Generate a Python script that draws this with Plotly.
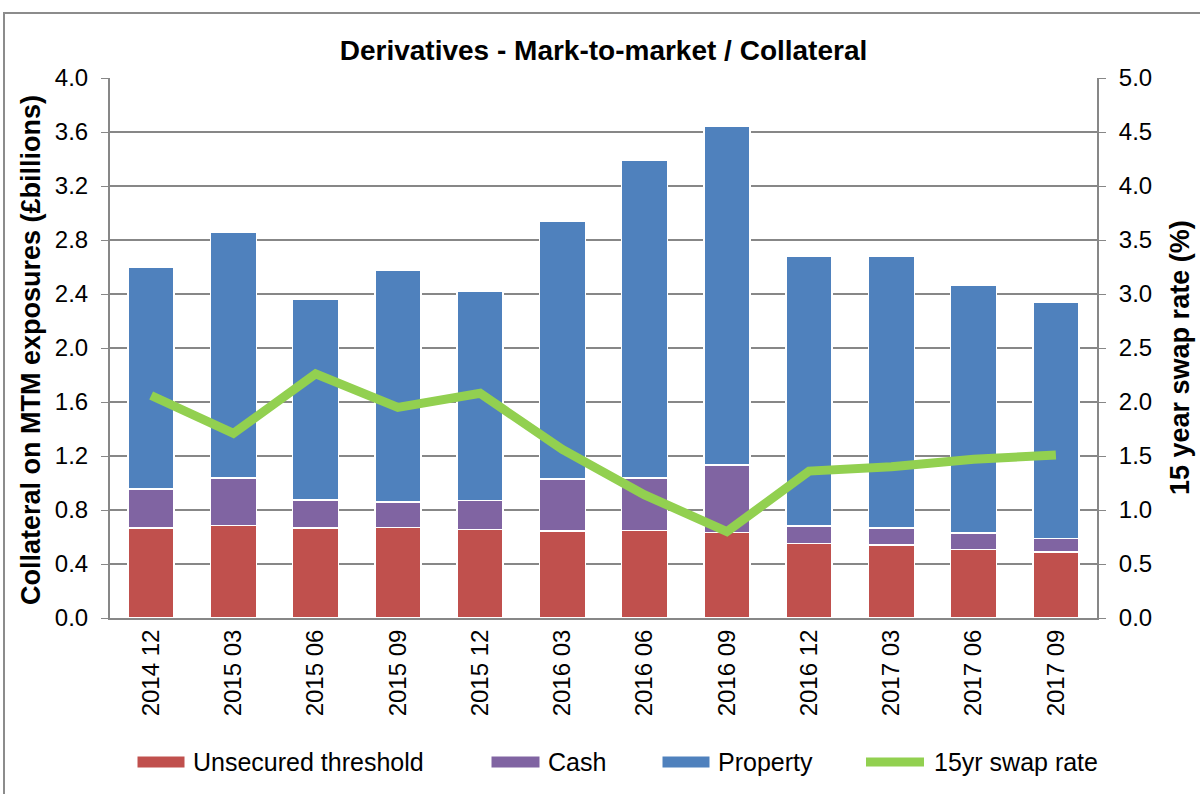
import plotly.graph_objects as go

categories = ["2014 12", "2015 03", "2015 06", "2015 09", "2015 12", "2016 03",
              "2016 06", "2016 09", "2016 12", "2017 03", "2017 06", "2017 09"]
unsecured = [0.665, 0.685, 0.667, 0.670, 0.657, 0.645, 0.647, 0.635, 0.552, 0.542, 0.509, 0.489]
cash = [0.290, 0.353, 0.207, 0.191, 0.215, 0.383, 0.391, 0.498, 0.128, 0.123, 0.121, 0.100]
property_ = [1.645, 1.822, 1.486, 1.713, 1.546, 1.909, 2.352, 2.507, 2.000, 2.015, 1.838, 1.751]
swap_rate = [2.06, 1.71, 2.26, 1.95, 2.08, 1.56, 1.14, 0.80, 1.36, 1.40, 1.47, 1.51]

series_names = ["Unsecured threshold", "Cash", "Property", "15yr swap rate"]
series_colors = ["#C0504D", "#8064A2", "#4F81BD", "#92D050"]

FONT = "Arial, Liberation Sans, sans-serif"
GRID = "#878787"

# plot area in pixels
L, R, T, B = 110, 1097, 78, 618
W, H = R - L, B - T


def px(x):
    return (x - L) / W


def py(y):
    return (B - y) / H


fig = go.Figure()
for name, vals, col in zip(series_names[:3], [unsecured, cash, property_], series_colors[:3]):
    fig.add_trace(go.Bar(x=categories, y=vals, name=name,
                         marker=dict(color=col, line=dict(color="white", width=1.5))))
fig.add_trace(go.Scatter(x=categories, y=swap_rate, name=series_names[3], yaxis="y2",
                         mode="lines", line=dict(color=series_colors[3], width=9)))

shapes = [dict(type="rect", xref="paper", yref="paper",
               x0=px(4), x1=px(1215), y0=py(800), y1=py(13),
               line=dict(color="#8c8c8c", width=2), fillcolor="rgba(0,0,0,0)", layer="below")]
annotations = [
    dict(text="<b>Collateral on MTM exposures (£billions)</b>", xref="paper", yref="paper",
         x=px(31), y=py(350), textangle=-90, showarrow=False, xanchor="center", yanchor="middle",
         font=dict(size=27)),
    dict(text="<b>15 year swap rate (%)</b>", xref="paper", yref="paper",
         x=px(1180), y=py(358), textangle=-90, showarrow=False, xanchor="center", yanchor="middle",
         font=dict(size=27)),
]

# manual legend (wide swatches, as in the reference)
leg_y = 762
swatch_x = [(137, 185), (491, 540), (662, 710), (862, 928)]
text_x = [191, 546, 716, 932]
for i, (name, col) in enumerate(zip(series_names, series_colors)):
    x0, x1 = swatch_x[i]
    if i < 3:
        shapes.append(dict(type="rect", xref="paper", yref="paper", x0=px(x0), x1=px(x1),
                           y0=py(leg_y + 6), y1=py(leg_y - 6), fillcolor=col,
                           line=dict(color="white", width=1)))
    else:
        shapes.append(dict(type="line", xref="paper", yref="paper", x0=px(x0 + 4), x1=px(x1 - 4),
                           y0=py(leg_y), y1=py(leg_y), line=dict(color=col, width=9)))
    annotations.append(dict(text=name, xref="paper", yref="paper", x=px(text_x[i]), y=py(leg_y),
                            xanchor="left", yanchor="middle", showarrow=False,
                            font=dict(size=25)))

fig.update_layout(
    width=1200, height=794,
    barmode="stack", bargap=0.44,
    paper_bgcolor="white", plot_bgcolor="white",
    margin=dict(l=L, r=1200 - R, t=T, b=794 - B),
    font=dict(family=FONT, size=22, color="black"),
    title=dict(text="<b>Derivatives - Mark-to-market / Collateral</b>",
               x=0.5, xref="paper", xanchor="center",
               y=1 - 50 / 794, yanchor="middle", font=dict(size=28, family=FONT)),
    xaxis=dict(type="category", tickangle=-90, showline=True, linecolor=GRID, linewidth=2,
               showgrid=False, ticks="", tickfont=dict(size=24)),
    yaxis=dict(range=[0, 4.0], dtick=0.4, tickformat=".1f", showgrid=True, gridcolor=GRID,
               gridwidth=1.5, showline=True, linecolor=GRID, linewidth=2, ticks="outside",
               ticklen=7, tickcolor=GRID, zeroline=False, tickfont=dict(size=24),
               ticklabelstandoff=8),
    yaxis2=dict(range=[0, 5.0], dtick=0.5, tickformat=".1f", overlaying="y", side="right",
                showgrid=False, showline=True, linecolor=GRID, linewidth=2, ticks="outside",
                ticklen=7, tickcolor=GRID, zeroline=False, tickfont=dict(size=24),
                ticklabelstandoff=8),
    showlegend=False,
    hovermode=False,
    shapes=shapes,
    annotations=annotations,
)

fig.write_html("out.html")
